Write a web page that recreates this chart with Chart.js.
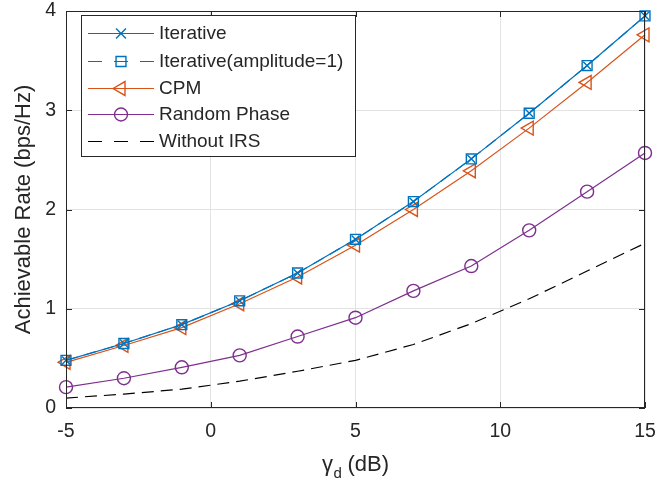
<!DOCTYPE html>
<html>
<head>
<meta charset="utf-8">
<script src="https://cdn.jsdelivr.net/npm/chart.js@4.4.0/dist/chart.umd.min.js"></script>
<style>
  html, body { margin: 0; padding: 0; background: #fff; }
  #wrap { width: 658px; height: 484px; }
</style>
</head>
<body>
<div id="wrap"><canvas id="rateChart" width="658" height="484"></canvas></div>
<script>
// Data
const gammaD = [-5, -3, -1, 1, 3, 5, 7, 9, 11, 13, 15];
const iterative = [0.48, 0.65, 0.84, 1.08, 1.36, 1.70, 2.08, 2.51, 2.97, 3.45, 3.95];
const iterativeAmp1 = [0.48, 0.65, 0.84, 1.08, 1.36, 1.70, 2.08, 2.51, 2.97, 3.45, 3.95];
const cpm = [0.46, 0.63, 0.81, 1.05, 1.32, 1.64, 2.00, 2.39, 2.82, 3.28, 3.76];
const randomPhase = [0.21, 0.30, 0.41, 0.53, 0.72, 0.91, 1.18, 1.43, 1.79, 2.18, 2.57];
const withoutIRS = [0.10, 0.14, 0.19, 0.27, 0.37, 0.48, 0.64, 0.85, 1.10, 1.38, 1.66];
const xTicks = [-5, 0, 5, 10, 15];
const yTicks = [0, 1, 2, 3, 4];

const FONT = '"Liberation Sans", Arial, Helvetica, sans-serif';
const AXIS_COLOR = '#262626';
const BLUE = '#0072BD';
const ORANGE = '#D95319';
const PURPLE = '#7E2F8E';

const toPoints = arr => arr.map((v, i) => ({ x: gammaD[i], y: v }));

const datasets = [
    {
        label: 'Iterative',
        data: toPoints(iterative),
        borderColor: BLUE,
        borderWidth: 1.2,
        pointStyle: 'crossRot',
        pointRadius: 5.5,
        pointBorderWidth: 1.4,
        pointBorderColor: BLUE,
        pointBackgroundColor: 'rgba(0,0,0,0)'
    },
    {
        label: 'Iterative(amplitude=1)',
        data: toPoints(iterativeAmp1),
        borderColor: BLUE,
        borderWidth: 1.2,
        borderDash: [12, 7],
        pointStyle: 'rect',
        pointRadius: 7,
        pointBorderWidth: 1.4,
        pointBorderColor: BLUE,
        pointBackgroundColor: 'rgba(0,0,0,0)'
    },
    {
        label: 'CPM',
        data: toPoints(cpm),
        borderColor: ORANGE,
        borderWidth: 1.2,
        pointStyle: 'triangle',
        pointRotation: -90,
        pointRadius: 8,
        pointBorderWidth: 1.4,
        pointBorderColor: ORANGE,
        pointBackgroundColor: 'rgba(0,0,0,0)'
    },
    {
        label: 'Random Phase',
        data: toPoints(randomPhase),
        borderColor: PURPLE,
        borderWidth: 1.2,
        pointStyle: 'circle',
        pointRadius: 6.5,
        pointBorderWidth: 1.4,
        pointBorderColor: PURPLE,
        pointBackgroundColor: 'rgba(0,0,0,0)'
    },
    {
        label: 'Without IRS',
        data: toPoints(withoutIRS),
        borderColor: '#000000',
        borderWidth: 1.2,
        borderDash: [12, 7],
        pointRadius: 0
    }
];

// draw a hollow marker like the ones on the lines
function drawMarker(ctx, style, x, y, r, rotation) {
    ctx.beginPath();
    if (style === 'crossRot') {
        const s = r * Math.SQRT1_2;
        ctx.moveTo(x - s, y - s); ctx.lineTo(x + s, y + s);
        ctx.moveTo(x - s, y + s); ctx.lineTo(x + s, y - s);
    } else if (style === 'rect') {
        const s = r * Math.SQRT1_2;
        ctx.rect(x - s, y - s, 2 * s, 2 * s);
    } else if (style === 'triangle') {
        let rad = (rotation || 0) * Math.PI / 180;
        ctx.moveTo(x + Math.sin(rad) * r, y - Math.cos(rad) * r);
        rad += 2 * Math.PI / 3;
        ctx.lineTo(x + Math.sin(rad) * r, y - Math.cos(rad) * r);
        rad += 2 * Math.PI / 3;
        ctx.lineTo(x + Math.sin(rad) * r, y - Math.cos(rad) * r);
        ctx.closePath();
    } else if (style === 'circle') {
        ctx.arc(x, y, r, 0, Math.PI * 2);
    }
    ctx.stroke();
}

// Box, inward ticks, axis titles and legend in MATLAB style
const matlabFrame = {
    id: 'matlabFrame',
    afterDatasetsDraw(chart) {
        const ctx = chart.ctx;
        const area = chart.chartArea;
        const xs = chart.scales.x;
        const ys = chart.scales.y;
        const tickLen = 6;

        ctx.save();
        ctx.strokeStyle = AXIS_COLOR;
        ctx.lineWidth = 1;
        ctx.setLineDash([]);
        ctx.strokeRect(area.left + 0.5, area.top + 0.5, area.right - area.left - 1, area.bottom - area.top - 1);

        ctx.beginPath();
        xTicks.forEach(v => {
            const px = Math.round(xs.getPixelForValue(v)) + 0.5;
            ctx.moveTo(px, area.bottom); ctx.lineTo(px, area.bottom - tickLen);
            ctx.moveTo(px, area.top); ctx.lineTo(px, area.top + tickLen);
        });
        yTicks.forEach(v => {
            const py = Math.round(ys.getPixelForValue(v)) + 0.5;
            ctx.moveTo(area.left, py); ctx.lineTo(area.left + tickLen, py);
            ctx.moveTo(area.right, py); ctx.lineTo(area.right - tickLen, py);
        });
        ctx.stroke();

        // y axis title
        ctx.fillStyle = AXIS_COLOR;
        ctx.save();
        ctx.translate(24, (area.top + area.bottom) / 2);
        ctx.rotate(-Math.PI / 2);
        ctx.font = '22px ' + FONT;
        ctx.textAlign = 'center';
        ctx.textBaseline = 'middle';
        ctx.fillText('Achievable Rate (bps/Hz)', 0, 0);
        ctx.restore();

        // x axis title: gamma with subscript d
        const big = '22px ' + FONT;
        const small = '15px ' + FONT;
        ctx.textAlign = 'left';
        ctx.textBaseline = 'alphabetic';
        ctx.font = big;
        const wG = ctx.measureText('\u03b3').width;
        const wRest = ctx.measureText(' (dB)').width;
        ctx.font = small;
        const wD = ctx.measureText('d').width;
        let x0 = (area.left + area.right) / 2 - (wG + wD + wRest) / 2;
        const base = 471;
        ctx.font = big;
        ctx.fillText('\u03b3', x0, base);
        ctx.font = small;
        ctx.fillText('d', x0 + wG + 0.5, base + 7);
        ctx.font = big;
        ctx.fillText(' (dB)', x0 + wG + wD, base);

        // legend
        const lg = { left: 81, top: 15, right: 355, bottom: 156 };
        ctx.fillStyle = '#ffffff';
        ctx.fillRect(lg.left, lg.top, lg.right - lg.left, lg.bottom - lg.top);
        ctx.strokeStyle = AXIS_COLOR;
        ctx.lineWidth = 1;
        ctx.strokeRect(lg.left + 0.5, lg.top + 0.5, lg.right - lg.left, lg.bottom - lg.top);
        const rowY = [33, 61, 88, 114, 141];
        ctx.font = '19px ' + FONT;
        ctx.textBaseline = 'middle';
        datasets.forEach((ds, i) => {
            const y = rowY[i];
            ctx.strokeStyle = ds.borderColor;
            ctx.lineWidth = ds.borderWidth;
            // legend samples use a wider dash so three dashes fit the sample
            ctx.setLineDash(ds.borderDash ? [14, 12] : []);
            ctx.beginPath();
            ctx.moveTo(88, y + 0.5); ctx.lineTo(154, y + 0.5);
            ctx.stroke();
            ctx.setLineDash([]);
            if (ds.pointRadius > 0) {
                ctx.lineWidth = ds.pointBorderWidth;
                const r = ds.pointStyle === 'crossRot' ? 7 : ds.pointRadius;
                drawMarker(ctx, ds.pointStyle, 121, y + 0.5, r, ds.pointRotation);
            }
            ctx.fillStyle = AXIS_COLOR;
            ctx.fillText(ds.label, 159, y + 1);
        });
        ctx.restore();
    }
};

new Chart(document.getElementById('rateChart'), {
    type: 'line',
    data: { datasets },
    options: {
        responsive: false,
        animation: false,
        devicePixelRatio: 1,
        clip: false,
        layout: { padding: { top: 11, right: 13, left: 0, bottom: 0 } },
        elements: { line: { tension: 0, fill: false } },
        plugins: {
            legend: { display: false },
            tooltip: { enabled: false }
        },
        scales: {
            x: {
                type: 'linear',
                min: -5,
                max: 15,
                afterBuildTicks: scale => { scale.ticks = xTicks.map(v => ({ value: v })); },
                afterFit: scale => {
                    scale.height = 76;
                    scale.paddingLeft = 0;
                    scale.paddingRight = 0;
                },
                ticks: {
                    color: AXIS_COLOR,
                    font: { family: FONT, size: 19.5 },
                    padding: 12,
                    maxRotation: 0
                },
                grid: { color: '#e3e3e3', lineWidth: 1, drawTicks: false },
                border: { display: false }
            },
            y: {
                type: 'linear',
                min: 0,
                max: 4,
                afterBuildTicks: scale => { scale.ticks = yTicks.map(v => ({ value: v })); },
                afterFit: scale => {
                    scale.width = 66;
                    scale.paddingTop = 0;
                    scale.paddingBottom = 0;
                },
                ticks: {
                    color: AXIS_COLOR,
                    font: { family: FONT, size: 19.5 },
                    padding: 10
                },
                grid: { color: '#e3e3e3', lineWidth: 1, drawTicks: false },
                border: { display: false }
            }
        }
    },
    plugins: [matlabFrame]
});
</script>
</body>
</html>
